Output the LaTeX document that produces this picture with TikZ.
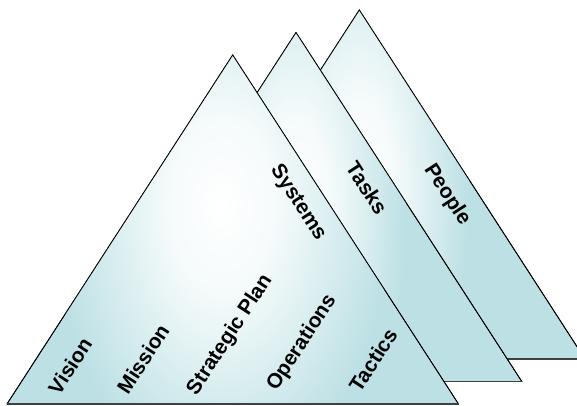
\documentclass[tikz,border=0pt]{standalone}
\usepackage{fontspec}
\setmainfont{Liberation Sans}
\definecolor{tribg}{RGB}{188,224,228}
\pgfdeclareradialshading{glow}{\pgfpoint{0bp}{0bp}}{color(0bp)=(white); color(8bp)=(white!85!tribg); color(20bp)=(white!25!tribg); color(25bp)=(tribg); color(50bp)=(tribg)}
\tikzset{
	tri/.style={draw=black, line width=0.6pt, fill=tribg},
	base/.style={draw=black!75, line width=1.1pt},
	lbl/.style={font=\fontsize{15.6}{17}\selectfont\bfseries, inner sep=0pt}
}
\begin{document}
\begin{tikzpicture}[x=0.75pt,y=-0.75pt]
		\useasboundingbox (0,0) rectangle (577,406);
		\clip (0,0) rectangle (577,406);
		
		% back: people
		\draw[tri] (359.3,10) -- (585,359) -- (133.6,359) -- cycle;
		\begin{scope}
			\clip (359.3,10) -- (585,359) -- (133.6,359) -- cycle;
			\shade[shading=glow] (359,190) ellipse (110 and 300);
		\end{scope}
		\draw[line width=0.6pt] (133.6,359) -- (359.3,10) -- (585,359);
		\draw[base] (133.6,359) -- (585,359);
		
		% middle: tasks
		\draw[tri] (296,32.5) -- (521.8,381.5) -- (70.3,381.5) -- cycle;
		\begin{scope}
			\clip (296,32.5) -- (521.8,381.5) -- (70.3,381.5) -- cycle;
			\shade[shading=glow] (296,212) ellipse (110 and 300);
		\end{scope}
		\draw[line width=0.6pt] (70.3,381.5) -- (296,32.5) -- (521.8,381.5);
		\draw[base] (70.3,381.5) -- (521.8,381.5);
		
		% front: systems
		\draw[tri] (232.7,55) -- (458.5,404) -- (7,404) -- cycle;
		\begin{scope}
			\clip (232.7,55) -- (458.5,404) -- (7,404) -- cycle;
			\shade[shading=glow] (222,205) ellipse (170 and 280);
		\end{scope}
		\draw[line width=0.6pt] (7,404) -- (232.7,55) -- (458.5,404);
		\draw[base] (7,404) -- (458.5,404);
		
		\node[lbl, rotate=-57] (people) at (447,195) {People};
		\node[lbl, rotate=-57] (tasks) at (367,188) {Tasks};
		\node[lbl, rotate=-57] (systems) at (298,203) {Systems};
		
		\node[lbl, rotate=57] (vision) at (70,366) {Vision};
		\node[lbl, rotate=57] (mission) at (143,359) {Mission};
		\node[lbl, rotate=57] (plan) at (230,335) {Strategic Plan};
		\node[lbl, rotate=57] (operations) at (302,343) {Operations};
		\node[lbl, rotate=57] (tactics) at (373,360) {Tactics};
	\end{tikzpicture}
\end{document}
